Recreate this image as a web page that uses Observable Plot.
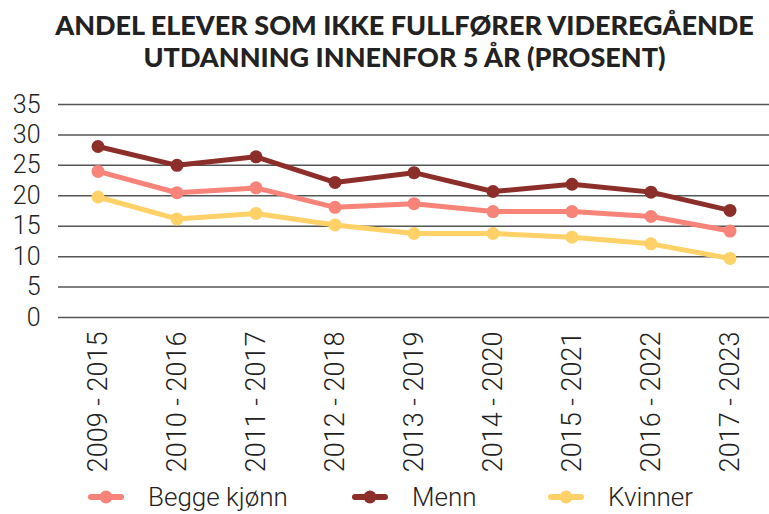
<!DOCTYPE html>
<html><head><meta charset="utf-8">
<script src="https://cdn.jsdelivr.net/npm/d3@7"></script>
<script src="https://cdn.jsdelivr.net/npm/@observablehq/plot@0.6"></script>
<style>
body{margin:0;background:#fff;font-family:Roboto,sans-serif;color:#222;}
#title{width:769px;height:85px;box-sizing:border-box;padding-top:9px;padding-left:40px;text-align:center;font-family:Lato,sans-serif;font-weight:900;font-size:27px;line-height:32px;color:#222;white-space:nowrap;}
#legend{height:39px;font-size:26px;font-weight:300;color:#222;}
.item{display:flex;align-items:center;position:absolute;top:7px;}
</style></head><body>
<div id="title">ANDEL ELEVER SOM IKKE FULLFØRER VIDEREGÅENDE<br>UTDANNING INNENFOR 5 ÅR (PROSENT)</div>
<div id="chart"></div>
<div id="legend" style="position:relative"></div>
<script>
const categories = ["2009 - 2015","2010 - 2016","2011 - 2017","2012 - 2018","2013 - 2019","2014 - 2020","2015 - 2021","2016 - 2022","2017 - 2023"];
const seriesNames = ["Begge kjønn","Menn","Kvinner"];
const begge = [24.0,20.5,21.3,18.1,18.7,17.4,17.4,16.6,14.2];
const menn = [28.1,25.0,26.4,22.2,23.8,20.7,21.9,20.6,17.6];
const kvinner = [19.8,16.2,17.1,15.2,13.8,13.8,13.2,12.1,9.7];
const yTicks = [0,5,10,15,20,25,30,35];
const colors = ["#F88379","#8C2F2B","#FFD166"];

const values = [begge, menn, kvinner];
const data = [];
seriesNames.forEach((s,i)=>categories.forEach((c,j)=>data.push({serie:s,periode:c,verdi:values[i][j]})));

const chart = Plot.plot({
  width:769, height:390,
  marginTop:19, marginBottom:158, marginLeft:58, marginRight:0,
  style:{fontFamily:"Roboto, sans-serif", fontWeight:300, fontSize:"25px", color:"#222"},
  x:{type:"band", domain:categories, padding:0, label:null},
  y:{domain:[0,35], label:null},
  color:{domain:seriesNames, range:colors},
  marks:[
    Plot.ruleY(yTicks,{stroke:"#555",strokeWidth:1.5}),
    Plot.line(data,{x:"periode",y:"verdi",z:"serie",stroke:"serie",strokeWidth:5}),
    Plot.dot(data,{x:"periode",y:"verdi",fill:"serie",r:6.5}),
    Plot.axisY(yTicks,{tickSize:0, tickPadding:18, fontSize:25, label:null}),
    Plot.axisX({tickRotate:-90, tickSize:0, tickPadding:14, fontSize:27, label:null})
  ]
});
document.getElementById("chart").appendChild(chart);

const leg = document.getElementById("legend");
const lx = [88,352,548];
seriesNames.forEach((s,i)=>{
  const d = document.createElement("div");
  d.className="item";
  d.style.left = lx[i]+"px";
  d.innerHTML = `<svg width="36" height="16" style="margin-right:24px"><line x1="3" x2="33" y1="8" y2="8" stroke="${colors[i]}" stroke-width="6" stroke-linecap="round"/><circle cx="18" cy="8" r="6.5" fill="${colors[i]}"/></svg><span>${s}</span>`;
  leg.appendChild(d);
});
</script>
</body></html>
